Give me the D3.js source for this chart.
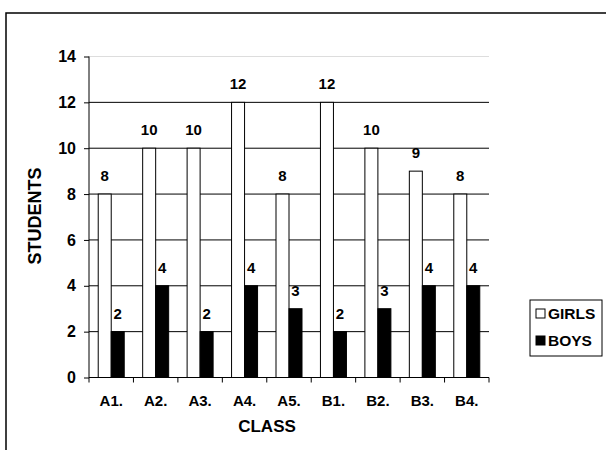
<!DOCTYPE html>
<html>
<head>
<meta charset="utf-8">
<script src="https://cdn.jsdelivr.net/npm/d3@7"></script>
<style>
  body { margin: 0; background: #fff; }
  text { font-family: "Liberation Sans", Arial, sans-serif; font-weight: bold; fill: #000; }
</style>
</head>
<body>
<div id="chart"></div>
<script>
var classes = ["A1.", "A2.", "A3.", "A4.", "A5.", "B1.", "B2.", "B3.", "B4."];
var girls = [8, 10, 10, 12, 8, 12, 10, 9, 8];
var boys = [2, 4, 2, 4, 3, 2, 3, 4, 4];
var yTicks = [0, 2, 4, 6, 8, 10, 12, 14];
var seriesNames = ["GIRLS", "BOYS"];
var seriesFill = ["#fff", "#000"];

var width = 606, height = 450;
// note: "top" is taken by window.top, so plotTop / plotBottom
var plotLeft = 89, plotRight = 489, plotTop = 56.5, plotBottom = 377.5;

var svg = d3.select("#chart").append("svg")
    .attr("width", width)
    .attr("height", height);

// outer frame (runs off the picture right and bottom)
svg.append("rect")
    .attr("x", 6).attr("y", 13)
    .attr("width", 640).attr("height", 480)
    .attr("fill", "none")
    .attr("stroke", "#000")
    .attr("stroke-width", 1.5);

var x = d3.scaleBand().domain(classes).range([plotLeft, plotRight]);
var y = d3.scaleLinear().domain([0, 14]).range([plotBottom, plotTop]);

// gridlines
svg.append("g").selectAll("line")
    .data(yTicks.filter(function(d) { return d > 0; }))
    .enter().append("line")
    .attr("x1", plotLeft).attr("x2", plotRight)
    .attr("y1", function(d) { return y(d); })
    .attr("y2", function(d) { return y(d); })
    .attr("stroke", function(d) { return d === 14 ? "#ddd" : "#000"; })
    .attr("stroke-width", 1);

var data = classes.map(function(c, i) { return { cls: c, vals: [girls[i], boys[i]] }; });
var barW = 13;

var groups = svg.append("g").selectAll("g")
    .data(data)
    .enter().append("g")
    .attr("transform", function(d) { return "translate(" + (x(d.cls) + x.bandwidth() / 2 - barW) + ",0)"; });

groups.selectAll("rect")
    .data(function(d) { return d.vals; })
    .enter().append("rect")
    .attr("x", function(d, i) { return i * barW; })
    .attr("y", function(d) { return y(d); })
    .attr("width", barW)
    .attr("height", function(d) { return plotBottom - y(d); })
    .attr("fill", function(d, i) { return seriesFill[i]; })
    .attr("stroke", "#000")
    .attr("stroke-width", 1);

groups.selectAll("text")
    .data(function(d) { return d.vals; })
    .enter().append("text")
    .attr("x", function(d, i) { return i * barW + barW / 2; })
    .attr("y", function(d) { return y(d) - 13; })
    .attr("text-anchor", "middle")
    .style("font-size", "15px")
    .text(function(d) { return d; });

// y axis
var yAxis = svg.append("g")
    .attr("transform", "translate(" + plotLeft + ",0)")
    .call(d3.axisLeft(y).tickValues(yTicks).tickSize(5).tickPadding(8));
yAxis.select(".domain").attr("stroke", "#000").attr("d", "M0," + plotTop + "V" + plotBottom);
yAxis.selectAll("line").attr("stroke", "#000");
yAxis.selectAll("text")
    .style("font-size", "16px")
    .style("font-family", "Liberation Sans, Arial, sans-serif");

// x axis: ticks at band edges
var xAxis = svg.append("g").attr("transform", "translate(0," + plotBottom + ")");
xAxis.append("line").attr("x1", plotLeft).attr("x2", plotRight).attr("stroke", "#000");
xAxis.selectAll("line.tick")
    .data(classes.concat(["end"]))
    .enter().append("line")
    .attr("class", "tick")
    .attr("x1", function(d, i) { return plotLeft + i * x.step(); })
    .attr("x2", function(d, i) { return plotLeft + i * x.step(); })
    .attr("y1", 0).attr("y2", 5)
    .attr("stroke", "#000");
xAxis.selectAll("text")
    .data(classes)
    .enter().append("text")
    .attr("x", function(d) { return x(d) + x.bandwidth() / 2; })
    .attr("y", 28)
    .attr("text-anchor", "middle")
    .style("font-size", "15px")
    .text(function(d) { return d; });

// axis titles
svg.append("text")
    .attr("x", 267).attr("y", 432)
    .attr("text-anchor", "middle")
    .style("font-size", "17px")
    .text("CLASS");

svg.append("text")
    .attr("transform", "translate(41,216) rotate(-90)")
    .attr("text-anchor", "middle")
    .style("font-size", "18px")
    .text("STUDENTS");

// legend
var legend = svg.append("g").attr("transform", "translate(530,300)");
legend.append("rect")
    .attr("width", 72).attr("height", 56)
    .attr("fill", "#fff")
    .attr("stroke", "#000")
    .attr("stroke-width", 1);
var li = legend.selectAll("g.item")
    .data(seriesNames)
    .enter().append("g")
    .attr("class", "item")
    .attr("transform", function(d, i) { return "translate(6," + (13 + i * 27) + ")"; });
li.append("rect")
    .attr("x", 0).attr("y", -4)
    .attr("width", 9).attr("height", 9)
    .attr("fill", function(d, i) { return seriesFill[i]; })
    .attr("stroke", "#000");
li.append("text")
    .attr("x", 12).attr("y", 6)
    .style("font-size", "15.5px")
    .text(function(d) { return d; });
</script>
</body>
</html>
